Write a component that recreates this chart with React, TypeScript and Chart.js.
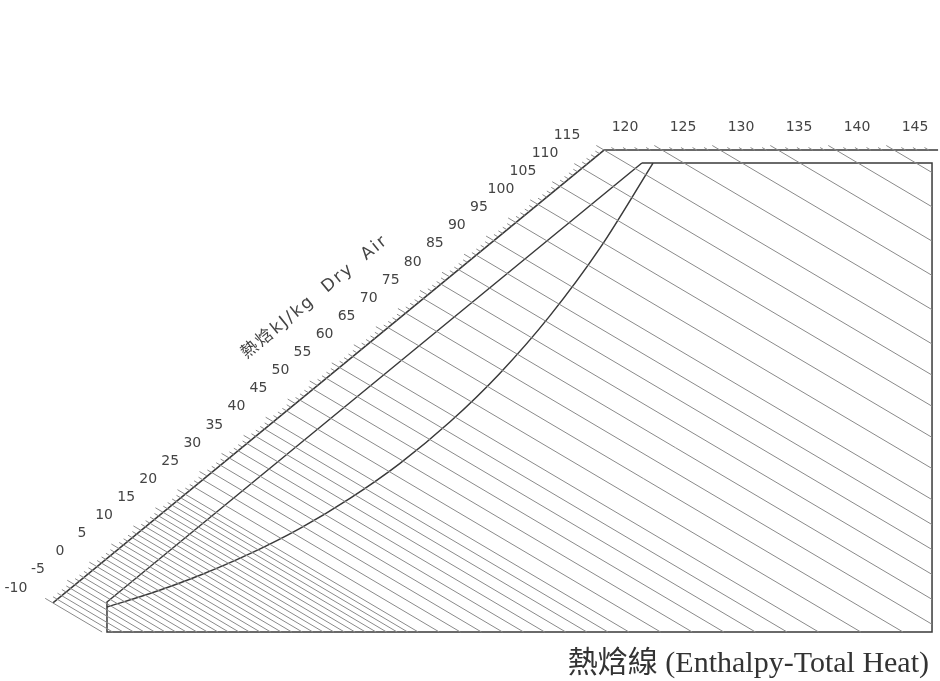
import React, { useEffect, useRef } from "react";
import { Chart, registerables } from "chart.js";

Chart.register(...registerables);

// ---------- data: x = dry-bulb temperature (°C), y = humidity ratio (g/kg) ----------
const boxTemp = [-10, 50];
const boxHum = [0, 30];

// straight limit line (left / upper boundary of the chart body)
const limitTemp = [-10, 28.9];
const limitHum = [1.92, 30];

// saturation curve
const satTemp = [-10, -6.87, -3.24, 0.4, 4.04, 7.67, 11.31, 14.95, 18.58, 22.22, 25.86, 29.71];
const satHum = [1.6, 2.46, 3.63, 5.01, 6.63, 8.55, 10.79, 13.45, 16.56, 20.24, 24.57, 30.0];

// enthalpy scale (polyline) and the enthalpy at each vertex (kJ/kg dry air)
const scaleTemp = [-13.93, 26.15, 50.44];
const scaleHum = [1.86, 30.83, 30.83];
const scaleEnthalpy = [-10, 115, 143.8];

const scaleLabels = [-10, -5, 0, 5, 10, 15, 20, 25, 30, 35, 40, 45, 50, 55, 60, 65, 70, 75, 80, 85, 90, 95, 100, 105, 110, 115, 120, 125, 130, 135, 140, 145];

// enthalpy lines drawn across the chart
const enthalpyLines = [
  -10, -9, -8, -7, -6, -5, -4, -3, -2, -1, 0, 1, 2, 3, 4, 5, 6, 7, 8, 9, 10, 11, 12, 13, 14, 15, 16, 17, 18, 19, 20,
  22, 24, 26, 28, 30, 32, 34, 36, 38, 40, 43, 46, 49, 52, 55, 58, 62, 66, 70, 74, 78, 82, 86, 90, 95,
  100, 105, 110, 115, 120, 125, 130, 135, 140,
];
// drawn slope of the enthalpy lines (humidity change per degree)
const lineSlope = -0.52;

const axisTitle = "熱焓kJ/kg  Dry  Air";
const caption = "熱焓線 (Enthalpy-Total Heat)";

// ---------- view ----------
const CW = 940;
const CH = 681;
const X_RANGE = [-17.78, 50.58];
const Y_RANGE = [-3.134, 40.43];
const pxT = (X_RANGE[1] - X_RANGE[0]) / CW;
const pxW = (Y_RANGE[1] - Y_RANGE[0]) / CH;

// unit pixel direction of an enthalpy line (pointing down-right on screen)
const dirPx = (() => {
  const dx = 1 / pxT;
  const dy = -lineSlope / pxW;
  const n = Math.hypot(dx, dy);
  return { ux: dx / n, uy: dy / n };
})();

type P = { x: number; y: number };

function scalePoint(h: number): P {
  let i = 0;
  if (h > scaleEnthalpy[1]) i = 1;
  const f = (h - scaleEnthalpy[i]) / (scaleEnthalpy[i + 1] - scaleEnthalpy[i]);
  return {
    x: scaleTemp[i] + f * (scaleTemp[i + 1] - scaleTemp[i]),
    y: scaleHum[i] + f * (scaleHum[i + 1] - scaleHum[i]),
  };
}

function extendUp(p: P, lenPx: number): P {
  return { x: p.x - lenPx * dirPx.ux * pxT, y: p.y + lenPx * dirPx.uy * pxW };
}

function lineEnd(p: P): P | null {
  const sBottom = (p.y - boxHum[0]) / -lineSlope;
  const sRight = boxTemp[1] - p.x;
  const s = Math.min(sBottom, sRight);
  if (s <= 0) return null;
  return { x: p.x + s, y: p.y + s * lineSlope };
}

const THIN = "#8a8a8a";
const DARK = "#3a3a3a";

function seg(points: P[], color: string, width: number, extra: any = {}) {
  return {
    data: points,
    showLine: true,
    borderColor: color,
    borderWidth: width,
    pointRadius: 0,
    fill: false,
    tension: 0,
    ...extra,
  };
}

function buildDatasets() {
  const ds: any[] = [];
  const hMax = scaleEnthalpy[scaleEnthalpy.length - 1];
  for (let h = scaleEnthalpy[0]; h <= hMax; h += 1) {
    const p = scalePoint(h);
    const major = h % 5 === 0;
    const start = extendUp(p, major ? 9 : 5);
    if (enthalpyLines.includes(h)) {
      const e = lineEnd(p);
      ds.push(seg(e ? [start, e] : [start, p], THIN, 1));
    } else {
      ds.push(seg([start, p], THIN, 1));
    }
  }
  ds.push(seg(scaleTemp.map((t, i) => ({ x: t, y: scaleHum[i] })), DARK, 1.5));
  ds.push(
    seg(
      [
        { x: limitTemp[1], y: limitHum[1] },
        { x: boxTemp[1], y: boxHum[1] },
        { x: boxTemp[1], y: boxHum[0] },
        { x: boxTemp[0], y: boxHum[0] },
        { x: limitTemp[0], y: limitHum[0] },
        { x: limitTemp[1], y: limitHum[1] },
      ],
      DARK,
      1.5
    )
  );
  ds.push(
    seg(
      satTemp.map((t, i) => ({ x: t, y: satHum[i] })),
      DARK,
      1.5,
      { cubicInterpolationMode: "monotone" }
    )
  );
  return ds;
}

const textPlugin = {
  id: "enthalpyText",
  afterDatasetsDraw(chart: any) {
    const ctx = chart.ctx as CanvasRenderingContext2D;
    const xs = chart.scales.x;
    const ys = chart.scales.y;
    const toPx = (p: P) => ({ x: xs.getPixelForValue(p.x), y: ys.getPixelForValue(p.y) });
    ctx.save();
    ctx.fillStyle = "#444";
    ctx.font = '14px "DejaVu Sans"';
    ctx.textAlign = "center";
    ctx.textBaseline = "middle";
    for (const h of scaleLabels) {
      const q = toPx(scalePoint(h));
      const top = h > scaleEnthalpy[1];
      ctx.fillText(String(h), q.x - 37, q.y - (top ? 23 : 15));
    }
    const a0 = toPx(scalePoint(scaleEnthalpy[0]));
    const a1 = toPx(scalePoint(scaleEnthalpy[1]));
    const ang = Math.atan2(a1.y - a0.y, a1.x - a0.x);
    const foot = toPx(scalePoint(59.5));
    const nx = Math.sin(ang);
    const ny = -Math.cos(ang);
    ctx.translate(foot.x + nx * 70, foot.y + ny * 70);
    ctx.rotate(ang);
    ctx.font = '17px "DejaVu Sans", "Noto Sans CJK TC"';
    (ctx as any).letterSpacing = "2px";
    ctx.fillText(axisTitle, 0, 0);
    ctx.restore();

    ctx.save();
    ctx.fillStyle = "#333";
    ctx.font = '30px "Liberation Serif", "Noto Sans CJK TC", serif';
    ctx.textAlign = "right";
    ctx.textBaseline = "alphabetic";
    ctx.fillText(caption, 929, 672);
    ctx.restore();
  },
};

export default function App() {
  const ref = useRef<HTMLCanvasElement>(null);
  useEffect(() => {
    document.body.style.margin = "0";
    document.body.style.background = "#ffffff";
    const chart = new Chart(ref.current as HTMLCanvasElement, {
      type: "scatter",
      data: { datasets: buildDatasets() },
      options: {
        responsive: false,
        maintainAspectRatio: false,
        animation: false,
        events: [],
        layout: { padding: 0 },
        plugins: { legend: { display: false }, tooltip: { enabled: false }, title: { display: false } },
        scales: {
          x: { type: "linear", display: false, min: X_RANGE[0], max: X_RANGE[1] },
          y: { type: "linear", display: false, min: Y_RANGE[0], max: Y_RANGE[1] },
        },
      },
      plugins: [textPlugin],
    });
    return () => chart.destroy();
  }, []);
  return <canvas ref={ref} width={CW} height={CH} style={{ display: "block" }} />;
}
